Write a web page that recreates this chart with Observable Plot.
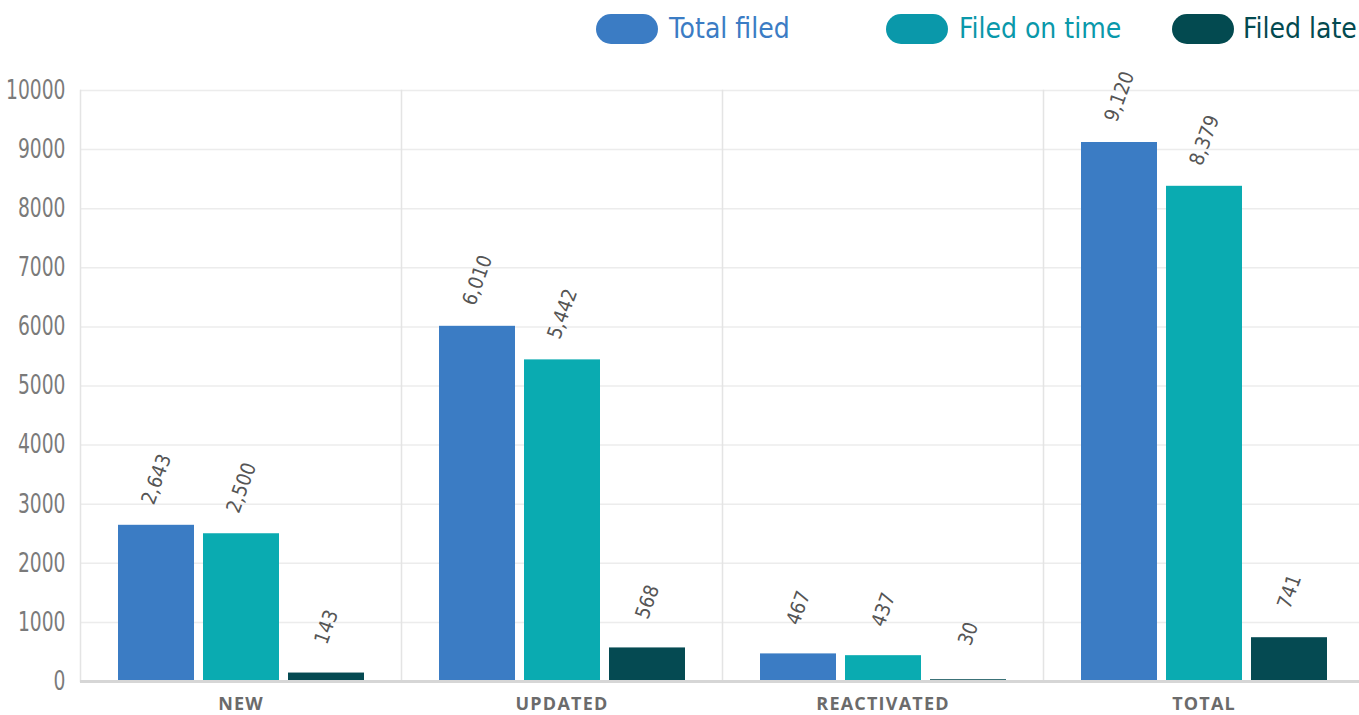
<!DOCTYPE html>
<html>
<head>
<meta charset="utf-8">
<script src="https://cdn.jsdelivr.net/npm/d3@7"></script>
<script src="https://cdn.jsdelivr.net/npm/@observablehq/plot@0.6"></script>
<style>
  html, body { margin: 0; padding: 0; background: #fff; overflow: hidden; }
  #wrap { position: relative; width: 1359px; height: 715px; overflow: hidden; }
  #legend { position: relative; height: 60px; width: 1359px; font-family: "DejaVu Sans Condensed", "Open Sans", sans-serif; }
  .item { position: absolute; top: 14px; height: 30px; display: flex; align-items: center; white-space: nowrap; }
  .sw { width: 62px; height: 30px; border-radius: 15px; margin-right: 11px; }
  .lab { font-size: 28px; line-height: 30px; }
  #chart svg { display: block; max-width: none !important; }
</style>
</head>
<body>
<div id="wrap">
  <div id="legend"></div>
  <div id="chart"></div>
</div>
<script>
const categories = ["NEW", "UPDATED", "REACTIVATED", "TOTAL"];
const series = ["Total filed", "Filed on time", "Filed late"];
const totalFiled = [2643, 6010, 467, 9120];
const filedOnTime = [2500, 5442, 437, 8379];
const filedLate = [143, 568, 30, 741];
const yTicks = [0, 1000, 2000, 3000, 4000, 5000, 6000, 7000, 8000, 9000, 10000];

const barColors = ["#3b7cc4", "#0aabb1", "#054a52"];
const legendColors = ["#3b7cc4", "#0a98aa", "#034a50"];
const legendLeft = [596, 886, 1172];

const valuesBySeries = [totalFiled, filedOnTime, filedLate];
const data = [];
categories.forEach((c, i) => {
  series.forEach((s, j) => {
    data.push({category: c, series: s, value: valuesBySeries[j][i]});
  });
});

// legend
const legend = document.getElementById("legend");
series.forEach((s, j) => {
  const it = document.createElement("div");
  it.className = "item";
  it.style.left = legendLeft[j] + "px";
  const sw = document.createElement("div");
  sw.className = "sw";
  sw.style.background = legendColors[j];
  if (j === 2) sw.style.marginRight = "9px";
  const lab = document.createElement("span");
  lab.className = "lab";
  lab.style.color = legendColors[j];
  lab.textContent = s;
  it.appendChild(sw);
  it.appendChild(lab);
  legend.appendChild(it);
});

const fmt = d3.format(",");

const chart = Plot.plot({
  width: 1364,
  height: 655,
  marginLeft: 80,
  marginRight: 0,
  marginTop: 30,
  marginBottom: 34,
  style: {fontFamily: "'DejaVu Sans Condensed', 'Open Sans', sans-serif", background: "#fff", overflow: "hidden", maxWidth: "none"},
  fx: {domain: categories, padding: 0, label: null},
  x: {domain: series, paddingInner: 0.11, paddingOuter: 0, insetLeft: 37, insetRight: 36, axis: null},
  y: {domain: [0, 10000], label: null},
  color: {domain: series, range: barColors},
  marks: [
    Plot.gridY(yTicks, {stroke: "#ececec", strokeOpacity: 1, strokeWidth: 1.5}),
    Plot.frame({anchor: "left", stroke: "#e4e4e4", strokeWidth: 1.5}),
    Plot.barY(data, {fx: "category", x: "series", y: "value", fill: "series"}),
    Plot.ruleY([0], {stroke: "#d6d6d6", strokeWidth: 3}),
    Plot.text(data, {
      fx: "category", x: "series", y: "value",
      text: d => fmt(d.value),
      rotate: -70, dy: -46, textAnchor: "middle",
      fill: "#555", fontSize: 20
    }),
    Plot.axisY(yTicks, {
      tickSize: 0, tickPadding: 15, fontSize: 26, fill: "#7a7a7a",
      tickFormat: d => String(d), label: null
    }),
    Plot.axisFx({
      anchor: "bottom",
      tickSize: 0, tickPadding: 16, label: null, fontSize: 18, fontWeight: "bold",
      fill: "#6b6b6b", fontFamily: "'Open Sans', sans-serif"
    })
  ]
});

// narrow the y tick labels (the reference face is condensed)
chart.querySelectorAll("[aria-label='y-axis tick label'] text").forEach(t => {
  const tr = t.getAttribute("transform") || "";
  t.setAttribute("transform", tr + " scale(0.8,1)");
});
chart.querySelectorAll("[aria-label='fx-axis tick label'] text").forEach(t => t.setAttribute("letter-spacing", "1.2"));
document.getElementById("chart").appendChild(chart);
</script>
</body>
</html>
